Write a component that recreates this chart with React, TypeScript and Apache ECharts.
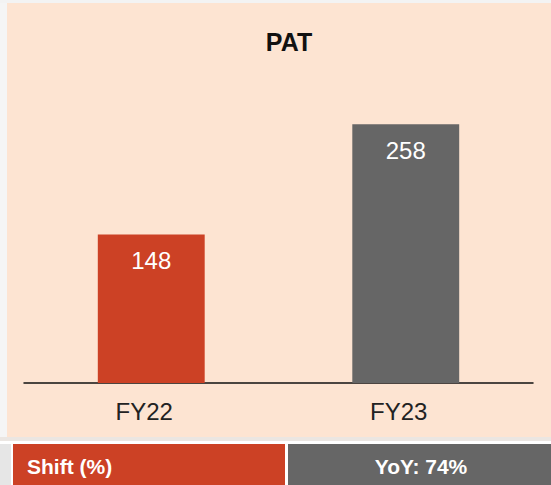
import React, { useEffect, useRef } from "react";
import * as echarts from "echarts";

const categories = ["FY22", "FY23"];
const values = [148, 258];
const barColors = ["#CC4125", "#666666"];
const title = "PAT";
const footerLeft = "Shift (%)";
const footerRight = "YoY: 74%";

const FONT = "'Liberation Sans', Arial, Helvetica, sans-serif";

export default function App() {
  const ref = useRef<HTMLDivElement>(null);
  useEffect(() => {
    if (!ref.current) return;
    const chart = echarts.init(ref.current, null, { renderer: "svg" });
    chart.setOption({
      animation: false,
      backgroundColor: "#ffffff",
      graphic: [
        { type: "rect", z: -10, shape: { x: 0, y: 0, width: 551, height: 3 }, style: { fill: "#f3f3f3" } },
        { type: "rect", z: -10, shape: { x: 0, y: 3, width: 7, height: 437 }, style: { fill: "#f5f5f5" } },
        { type: "rect", z: -10, shape: { x: 7, y: 3, width: 544, height: 434 }, style: { fill: "#FDE4D2" } },
        { type: "rect", z: -10, shape: { x: 0, y: 437, width: 551, height: 4 }, style: { fill: "#ebe6e2" } },
        { type: "rect", z: -10, shape: { x: 0, y: 444, width: 11, height: 41 }, style: { fill: "#e6e6e6" } },
        { type: "rect", z: -10, shape: { x: 13, y: 444, width: 272, height: 41 }, style: { fill: "#CC4125" } },
        { type: "rect", z: -10, shape: { x: 288, y: 444, width: 263, height: 41 }, style: { fill: "#666666" } },
        {
          type: "text", z: 10, x: 27, y: 466,
          style: { text: footerLeft, fill: "#ffffff", font: `bold 21px ${FONT}`, verticalAlign: "middle" },
        },
        {
          type: "text", z: 10, x: 421, y: 466,
          style: { text: footerRight, fill: "#ffffff", font: `bold 21px ${FONT}`, align: "center", verticalAlign: "middle" },
        },
      ],
      title: {
        text: title,
        left: 284,
        top: 24,
        textAlign: "center",
        textStyle: { fontFamily: FONT, fontWeight: "bold", fontSize: 25, color: "#111" },
      },
      grid: { left: 24, right: 18, top: 82, bottom: 102 },
      xAxis: {
        type: "category",
        data: categories,
        axisLine: { show: true, lineStyle: { color: "#111", width: 1.5 } },
        axisTick: { show: false },
        axisLabel: { fontFamily: FONT, fontSize: 24, color: "#222", margin: 16, padding: [0, 14, 0, 0] },
      },
      yAxis: {
        type: "value",
        min: 0,
        max: 300,
        show: false,
        splitLine: { show: false },
      },
      series: [
        {
          type: "bar",
          barWidth: "42%",
          data: values.map((v, i) => ({ value: v, itemStyle: { color: barColors[i] } })),
          label: {
            show: true,
            position: "insideTop",
            distance: 14,
            color: "#ffffff",
            fontFamily: FONT,
            fontSize: 24,
          },
        },
      ],
    });
    return () => chart.dispose();
  }, []);
  return (
    <div
      ref={ref}
      style={{ position: "fixed", left: 0, top: 0, width: 551, height: 485 }}
    />
  );
}
